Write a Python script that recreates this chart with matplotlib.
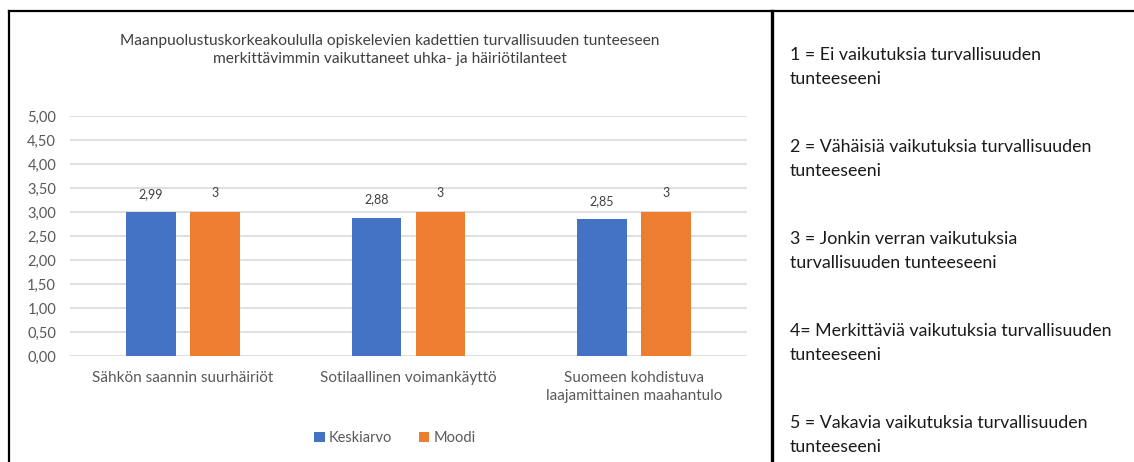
import matplotlib.pyplot as plt
import numpy as np
from matplotlib.lines import Line2D

categories = ["Sähkön saannin suurhäiriöt",
              "Sotilaallinen voimankäyttö",
              "Suomeen kohdistuva\nlaajamittainen maahantulo"]
keskiarvo = [2.99, 2.88, 2.85]
moodi = [3, 3, 3]
keskiarvo_labels = ["2,99", "2,88", "2,85"]
moodi_labels = ["3", "3", "3"]
yticks = [0, 0.5, 1, 1.5, 2, 2.5, 3, 3.5, 4, 4.5, 5]
scale_notes = [
    "1 = Ei vaikutuksia turvallisuuden\ntunteeseeni",
    "2 = Vähäisiä vaikutuksia turvallisuuden\ntunteeseeni",
    "3 = Jonkin verran vaikutuksia\nturvallisuuden tunteeseeni",
    "4= Merkittäviä vaikutuksia turvallisuuden\ntunteeseeni",
    "5 = Vakavia vaikutuksia turvallisuuden\ntunteeseeni",
]
title = ("Maanpuolustuskorkeakoululla opiskelevien kadettien turvallisuuden tunteeseen\n"
         "merkittävimmin vaikuttaneet uhka- ja häiriötilanteet")

plt.rcParams["font.family"] = ["Lato", "DejaVu Sans"]
BLUE = "#4472C4"
ORANGE = "#ED7D31"
GREY_TXT = "#595959"

W, H = 1134, 462
fig = plt.figure(figsize=(W / 100, H / 100), dpi=100)

def fx(px):
    return px / W

def fy(py):
    return 1 - py / H

ax = fig.add_axes([fx(70), fy(356), fx(747) - fx(70), fy(116) - fy(356)])

x = np.arange(len(categories))
width = 0.22
offset = 0.142
b1 = ax.bar(x - offset, keskiarvo, width, color=BLUE, label="Keskiarvo", zorder=3)
b2 = ax.bar(x + offset, moodi, width, color=ORANGE, label="Moodi", zorder=3)

for bars, labels in ((b1, keskiarvo_labels), (b2, moodi_labels)):
    for rect, lab in zip(bars, labels):
        ax.annotate(lab, (rect.get_x() + rect.get_width() / 2, rect.get_height()),
                    xytext=(0, 9), textcoords="offset points",
                    ha="center", va="bottom", fontsize=9, color="#404040")

ax.set_xlim(-0.5, len(categories) - 0.5)
ax.set_ylim(0, 5)
ax.set_yticks(yticks)
ax.set_yticklabels([f"{v:.2f}".replace(".", ",") for v in yticks],
                   fontsize=10.5, color=GREY_TXT)
ax.set_xticks(x)
ax.set_xticklabels(categories, fontsize=11, color=GREY_TXT, linespacing=1.3)
ax.tick_params(axis="both", length=0)
ax.tick_params(axis="x", pad=11)
ax.tick_params(axis="y", pad=10)
ax.grid(axis="y", color="#D9D9D9", linewidth=1.2, zorder=0)
for s in ax.spines.values():
    s.set_visible(False)

fig.text(fx(390), fy(50), title, ha="center", va="center",
         fontsize=11.2, color="#404040", linespacing=1.35)

fig.legend(handles=[b1, b2], loc="center", bbox_to_anchor=(fx(395), fy(438)),
           ncol=2, frameon=False, fontsize=10.5, handlelength=0.7, handleheight=0.7,
           handletextpad=0.3, columnspacing=1.8, labelcolor=GREY_TXT)

# frame lines around the chart and the scale panel
border = dict(color="black", transform=fig.transFigure)
fig.add_artist(Line2D([fx(9), fx(1134)], [fy(11), fy(11)], linewidth=1.6, **border))
fig.add_artist(Line2D([fx(9), fx(9)], [fy(11), fy(462)], linewidth=1.6, **border))
fig.add_artist(Line2D([fx(772), fx(772)], [fy(11), fy(462)], linewidth=2.4, **border))

for i, note in enumerate(scale_notes):
    fig.text(fx(790), fy(67 + 92 * i), note, ha="left", va="center",
             fontsize=12.8, color="#1a1a1a", linespacing=1.55)

fig.savefig("out.png", dpi=100)
